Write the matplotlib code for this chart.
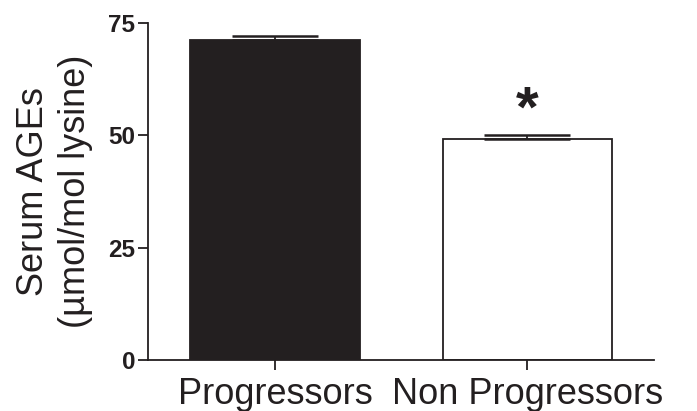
import matplotlib
matplotlib.use('Agg')
import matplotlib.pyplot as plt

plt.rcParams['font.family'] = ['Liberation Sans', 'DejaVu Sans']

# ---- data ----
groups = ['Progressors', 'Non Progressors']
means = [71.2, 49.2]
sem = [0.9, 0.8]
bar_colors = ['#231f20', 'white']
yticks = [0, 25, 50, 75]
ylabel = 'Serum AGEs\n(\u00b5mol/mol lysine)'
sig_mark = '*'

INK = '#231f20'

fig = plt.figure(figsize=(6.97, 4.11), dpi=100)
ax = fig.add_axes([0.2123, 0.1241, 0.7260, 0.8199])

x = list(range(len(groups)))
ax.bar(x, means, width=0.673, color=bar_colors, edgecolor=INK,
       linewidth=1.3, zorder=2)
ax.errorbar(x, means, yerr=[[0] * len(sem), sem], fmt='none',
            ecolor=INK, elinewidth=1.3, capsize=31, capthick=1.8, zorder=3)

# significance marker over the second bar
ax.text(x[1], 55.3, sig_mark, ha='center', va='center', fontsize=42,
        fontweight='bold', color=INK)

ax.set_xlim(-0.503, 1.501)
ax.set_ylim(0, 75)
ax.set_yticks(yticks)
ax.set_yticklabels([str(t) for t in yticks], fontsize=17.5, fontweight='bold',
                   color=INK)
ax.set_xticks(x)
ax.set_xticklabels(groups, fontsize=26, color=INK)
ax.tick_params(axis='both', length=7.2, width=1.3, color=INK)
ax.tick_params(axis='x', pad=5)
ax.tick_params(axis='y', pad=2)

for s in ['top', 'right']:
    ax.spines[s].set_visible(False)
for s in ['left', 'bottom']:
    ax.spines[s].set_linewidth(1.3)
    ax.spines[s].set_color(INK)

ax.set_ylabel(ylabel, fontsize=26, color=INK, linespacing=1.25, labelpad=11)

fig.savefig('out.png', dpi=100)
